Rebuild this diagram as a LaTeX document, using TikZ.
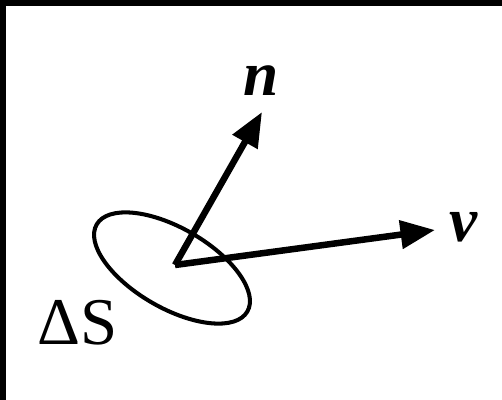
\documentclass[tikz,border=0pt]{standalone}
\usepackage{fontspec}
\setmainfont{Liberation Serif}
\usepackage{tikz}
\usetikzlibrary{arrows.meta}

\begin{document}
\begin{tikzpicture}[
      vec/.style={line width=3.7pt, -{Triangle[length=0.69cm, width=0.55cm]}},
      surf/.style={line width=2.3pt},
      vlbl/.style={font=\fontsize{36}{40}\selectfont\bfseries\itshape},
      slbl/.style={font=\fontsize{38}{42}\selectfont},
    ]
    \useasboundingbox (0,0) rectangle (10.04,-8);
    % frame (top and left edges only)
    \fill[black] (0,0) rectangle (10.04,-0.13);
    \fill[black] (0,0) rectangle (0.12,-8);

    % surface element
    \coordinate (c) at (3.44,-5.36);
    \draw[surf, rotate around={-30:(c)}] (c) ellipse [x radius=1.74cm, y radius=0.8cm];
    \node[slbl] (dS) at (1.55,-6.45) {ΔS};

    % normal and velocity
    \coordinate (o) at (3.5,-5.3);
    \coordinate (ntip) at (5.24,-2.24);
    \coordinate (vtip) at (8.70,-4.60);
    \draw[vec] (o) -- (ntip);
    \draw[vec] (o) -- (vtip);
    \node[vlbl] (nlabel) at (5.22,-1.62) {n};
    \node[vlbl] (vlabel) at (9.28,-4.55) {v};
  \end{tikzpicture}
\end{document}
